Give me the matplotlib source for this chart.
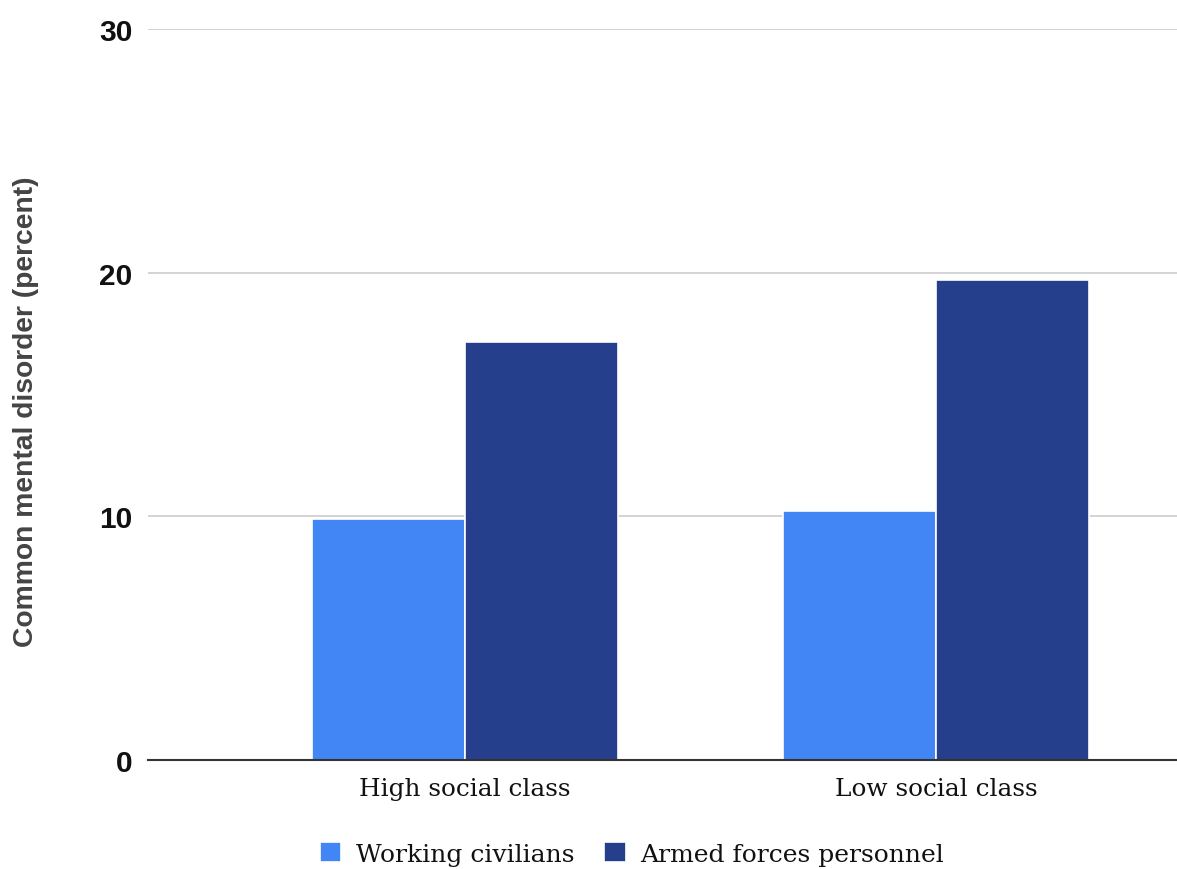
import matplotlib
matplotlib.use("Agg")
import matplotlib.pyplot as plt
from matplotlib import font_manager as fm
import numpy as np
import os

categories = ["High social class", "Low social class"]
series_names = ["Working civilians", "Armed forces personnel"]
civilians = [9.9, 10.2]
armed = [17.15, 19.7]
yticks = [0, 10, 20, 30]
colors = ["#4285F4", "#263F8D"]

SERIF = "DejaVu Serif"

def bold_sans(size):
    path = None
    for f in fm.fontManager.ttflist:
        if os.path.basename(f.fname) == "LiberationSans-Bold.ttf":
            path = f.fname
            break
    if path:
        return fm.FontProperties(fname=path, size=size)
    return fm.FontProperties(family="DejaVu Sans", weight="bold", size=size)

fig = plt.figure(figsize=(11.77, 8.7), dpi=100)
ax = fig.add_axes([148/1177, 1-761/870, 1-148/1177, (761-30)/870])

x = np.arange(len(categories))
w = 0.325
b1 = ax.bar(x - w/2, civilians, width=w, color=colors[0], edgecolor="white", linewidth=1.2, label=series_names[0], zorder=3)
b2 = ax.bar(x + w/2, armed, width=w, color=colors[1], edgecolor="white", linewidth=1.2, label=series_names[1], zorder=3)

ax.set_xlim(-0.673, 1.512)
ax.set_ylim(0, 30)
ax.set_yticks(yticks)
ax.set_yticklabels([str(t) for t in yticks], fontproperties=bold_sans(21.5), color="#111111")
ax.set_xticks(x)
ax.set_xticklabels(categories, fontfamily=SERIF, fontsize=17.8, color="#111111")
ax.tick_params(axis="both", length=0)
ax.tick_params(axis="y", pad=11)
ax.tick_params(axis="x", pad=12)
ax.grid(axis="y", color="#cccccc", linewidth=1.2, zorder=0)
for s in ["top", "right", "left"]:
    ax.spines[s].set_visible(False)
ax.spines["bottom"].set_color("#333333")
ax.spines["bottom"].set_linewidth(1.5)
ax.spines["bottom"].set_zorder(4)

fig.text(26/1177, 1-412/870, "Common mental disorder (percent)", rotation=90, ha="center", va="center",
         fontproperties=bold_sans(20.3), color="#444444")

leg = fig.legend(handles=[b1, b2], labels=series_names, loc="center", bbox_to_anchor=(632/1177, 1-855/870),
                 ncol=2, frameon=False, prop={"family": SERIF, "size": 18},
                 handlelength=0.85, handleheight=0.85, handletextpad=0.6, columnspacing=1.2)
for t in leg.get_texts():
    t.set_color("#111111")

fig.savefig("out.png", dpi=100)
